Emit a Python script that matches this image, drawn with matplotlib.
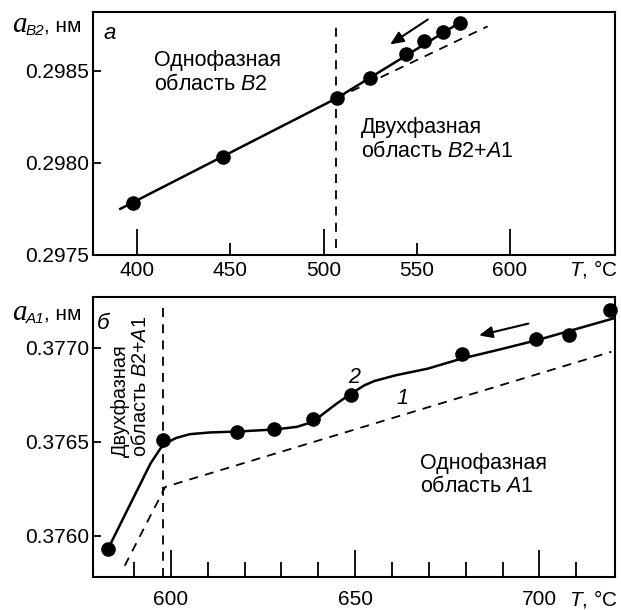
import matplotlib
matplotlib.use("Agg")
import matplotlib.pyplot as plt

plt.rcParams['font.family'] = ['Liberation Sans', 'DejaVu Sans']
plt.rcParams['mathtext.fontset'] = 'custom'
plt.rcParams['mathtext.it'] = 'Liberation Sans:italic'
plt.rcParams['mathtext.rm'] = 'Liberation Sans'

# --- panel a: B2 lattice parameter ---
b2_T = [398, 446, 507, 525, 544, 554, 564, 573]
b2_a = [0.29778, 0.29803, 0.29835, 0.29846, 0.29859, 0.29866, 0.29871, 0.29876]
b2_fit_T = [391, 507, 573]
b2_fit_a = [0.29775, 0.29835, 0.29876]
b2_ext_T = [507, 588]
b2_ext_a = [0.29835, 0.29874]
b2_border_T = 506.6
b2_yticks = [0.2975, 0.2980, 0.2985]

# --- panel b: A1 lattice parameter ---
a1_T = [583, 598, 618, 628, 638.5, 649, 679, 699, 708, 719]
a1_a = [0.37593, 0.37651, 0.37655, 0.37657, 0.37662, 0.37675, 0.37697, 0.37705, 0.37707, 0.37720]
# curve 2
a1_curve_T = [582.9, 589.1, 594.5, 597.2, 598.8, 601.5, 605.2, 610.6, 618.1, 628.3,
              634.2, 638.5, 641.2, 645.0, 648.7, 652.5, 655.2, 661.1, 669.7, 678.8,
              689.0, 699.2, 709.4, 720.5]
a1_curve_a = [0.375927, 0.376172, 0.376385, 0.376465, 0.376495, 0.376521, 0.376541,
              0.376550, 0.376555, 0.376566, 0.376580, 0.376606, 0.376647, 0.376704,
              0.376754, 0.376801, 0.376824, 0.376855, 0.376890, 0.376943, 0.376991,
              0.377041, 0.377098, 0.377160]
# dashed line 1
a1_line1_T = [587.5, 598.5, 719.5]
a1_line1_a = [0.37584, 0.37626, 0.37698]
a1_border_T = 598.0
a1_major = [600, 650, 700]
a1_minor = [590, 610, 620, 630, 640, 660, 670, 680, 690, 710]
a1_yticks = [0.3760, 0.3765, 0.3770]

fig = plt.figure(figsize=(6.21, 6.10), dpi=100)
ax1 = fig.add_axes([0.1498, 0.582, 0.8406, 0.399])
ax2 = fig.add_axes([0.1498, 0.0541, 0.8406, 0.4585])

dash = (0, (5, 4))
fs = 15       # tick labels
fa = 15.5     # annotations

# panel a
ax1.plot(b2_fit_T, b2_fit_a, color='black', lw=1.8, zorder=3)
ax1.plot(b2_ext_T, b2_ext_a, color='black', lw=1.3, ls=dash, zorder=2)
ax1.plot(b2_T, b2_a, 'o', color='black', ms=9.5, zorder=4)
ax1.plot([b2_border_T, b2_border_T], [0.29754, 0.29875], color='black', lw=1.3, ls=dash)
ax1.annotate('', xy=(535.7, 0.298642), xytext=(555.9, 0.298777),
             arrowprops=dict(arrowstyle='-|>,head_length=0.8,head_width=0.35',
                             color='black', lw=1.5, shrinkA=0, shrinkB=0))
ax1.set_xlim(376.4, 656.3)
ax1.set_ylim(0.2975, 0.29882)
ax1.set_xticks([400, 500, 600], labels=['400', '500', '600'])
ax1.set_xticks([450, 550], labels=['450', '550'], minor=True)
ax1.tick_params(axis='x', which='major', direction='in', length=19, width=1.3, pad=4, labelsize=fs)
ax1.tick_params(axis='x', which='minor', direction='in', length=9, width=1.3, pad=4, labelsize=fs)
ax1.set_yticks(b2_yticks, labels=['%.4f' % v for v in b2_yticks])
ax1.tick_params(axis='y', direction='in', length=6, width=1.3, pad=3, labelsize=fs)

ax1.text(409, 0.29849, 'Однофазная\nобласть $\\mathit{B2}$', fontsize=fa,
         ha='left', va='center', linespacing=1.15)
ax1.text(520, 0.298127, 'Двухфазная\nобласть $\\mathit{B2}$+$\\mathit{A1}$', fontsize=fa,
         ha='left', va='center', linespacing=1.15)
ax1.text(1.005, -0.058, '$\\mathit{T}$, °C', transform=ax1.transAxes, fontsize=fs,
         ha='right', va='center')

# panel b
ax2.plot(a1_curve_T, a1_curve_a, color='black', lw=1.8, zorder=3)
ax2.plot(a1_line1_T, a1_line1_a, color='black', lw=1.3, ls=dash, zorder=2)
ax2.plot(a1_T, a1_a, 'o', color='black', ms=9.5, zorder=4, clip_on=False)
ax2.plot([a1_border_T, a1_border_T], [0.37578, 0.377236], color='black', lw=1.3, ls=dash)
ax2.annotate('', xy=(683.6, 0.377067), xytext=(697.0, 0.37713),
             arrowprops=dict(arrowstyle='-|>,head_length=0.8,head_width=0.35',
                             color='black', lw=1.5, shrinkA=0, shrinkB=0))
ax2.set_xlim(578.9, 720.5)
ax2.set_ylim(0.37578, 0.37727)
ax2.set_xticks(a1_major, labels=[str(v) for v in a1_major])
ax2.set_xticks(a1_minor, minor=True)
ax2.tick_params(axis='x', which='major', direction='in', length=19.5, width=1.3, pad=9.5, labelsize=fs)
ax2.tick_params(axis='x', which='minor', direction='in', length=10.5, width=1.3)
ax2.set_yticks(a1_yticks, labels=['%.4f' % v for v in a1_yticks])
ax2.tick_params(axis='y', direction='in', length=6, width=1.3, pad=3, labelsize=fs)

ax2.text(667.5, 0.376323, 'Однофазная\nобласть $\\mathit{A1}$', fontsize=fa,
         ha='left', va='center', linespacing=1.15)
ax2.text(589.0, 0.376419, 'Двухфазная\nобласть $\\mathit{B2}$+$\\mathit{A1}$', fontsize=14.3,
         rotation=90, ha='center', va='bottom', multialignment='left', linespacing=1.1)
ax2.text(649.8, 0.376845, '2', fontsize=fa, style='italic', ha='center', va='center')
ax2.text(662.7, 0.37673, '1', fontsize=fa, style='italic', ha='center', va='center')
ax2.text(1.005, -0.077, '$\\mathit{T}$, °C', transform=ax2.transAxes, fontsize=fs,
         ha='right', va='center')

for ax in (ax1, ax2):
    for s in ax.spines.values():
        s.set_linewidth(1.5)

# axis labels and panel letters
W, H = 621.0, 610.0
def ftext(x, y, s, **kw):
    fig.text(x / W, 1 - y / H, s, va='baseline', ha='left', **kw)

ftext(12, 32, 'a', family='Liberation Serif', style='italic', fontsize=21)
ftext(26, 35, 'B2', style='italic', fontsize=11)
ftext(44, 31, ', нм', fontsize=fs)
ftext(104, 39, 'а', style='italic', fontsize=16)

ftext(12, 320, 'a', family='Liberation Serif', style='italic', fontsize=21)
ftext(26, 323, 'A1', style='italic', fontsize=11)
ftext(44, 319, ', нм', fontsize=fs)
ftext(97, 329, 'б', style='italic', fontsize=16)

fig.savefig('out.png', dpi=100)
